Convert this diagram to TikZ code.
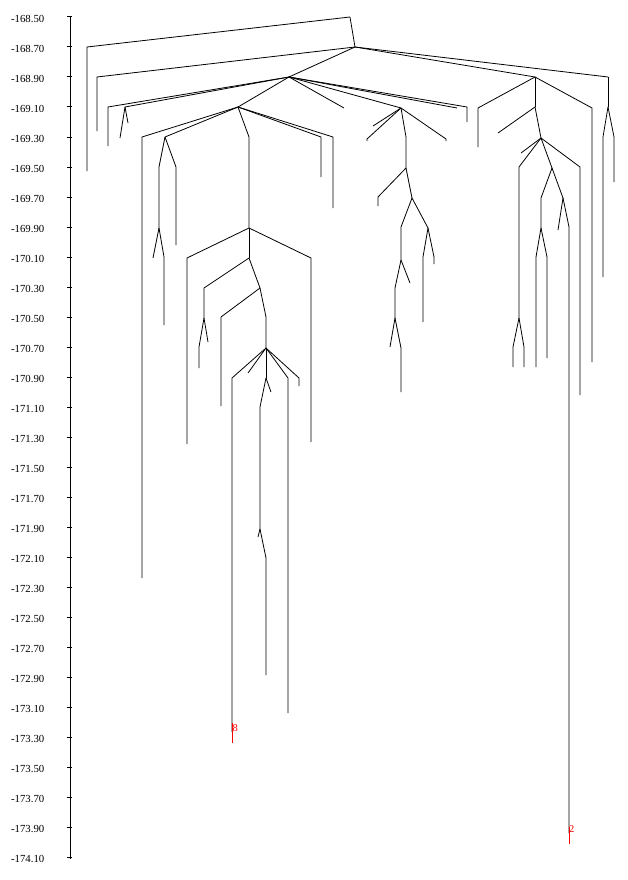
\documentclass[tikz,border=0pt]{standalone}
\usepackage{fontspec}
\setmainfont{Liberation Serif}
\begin{document}
\begin{tikzpicture}[x=1pt,y=-1pt,
  br/.style={line width=0.8pt,black,line join=miter},
  axisline/.style={line width=1pt,black},
  ticklab/.style={anchor=east,inner sep=0pt,font=\fontsize{10.8}{12}\selectfont},
  redseg/.style={line width=0.8pt,red},
  redlab/.style={anchor=west,inner sep=0pt,text=red,font=\fontsize{10.5}{11}\selectfont}]
\useasboundingbox (0,0) rectangle (628,880);
% axis
\coordinate (ax0) at (70,17);
\coordinate (ax1) at (70,859);
\draw[axisline] (ax0) -- (ax1);
\foreach \v [count=\i from 0] in {168.50,168.70,168.90,169.10,169.30,169.50,169.70,169.90,170.10,170.30,170.50,170.70,170.90,171.10,171.30,171.50,171.70,171.90,172.10,172.30,172.50,172.70,172.90,173.10,173.30,173.50,173.70,173.90,174.10}{
  \coordinate (tk\i) at (67,17+30*\i);
  \coordinate (tkr\i) at (72,17+30*\i);
  \draw[axisline] (tk\i) -- (tkr\i);
  \node[ticklab] (lab\i) at (44.5,18.5+30*\i) {-\v};
}
% ---- tree coordinates ----
\coordinate (R) at (350,17);
\coordinate (L1) at (87,47); \coordinate (L1e) at (87,171);
\coordinate (A) at (355,47);
\coordinate (L2) at (97,77); \coordinate (L2e) at (97,131);
\coordinate (B) at (289,77);
\coordinate (C) at (535,77);
\coordinate (D) at (608,77);
% B subtree
\coordinate (L3) at (108,107); \coordinate (L3e) at (108,146);
\coordinate (E) at (125,107); \coordinate (E1) at (120,138); \coordinate (E2) at (128,123);
\coordinate (F) at (238,107);
\coordinate (S1) at (344,108);
\coordinate (G) at (401,108);
\coordinate (S2) at (457,108);
\coordinate (L4) at (467,107); \coordinate (L4e) at (467,122);
% F subtree
\coordinate (L5) at (142,137); \coordinate (L5e) at (142,578);
\coordinate (H) at (165,137);
\coordinate (Fi) at (249,137); \coordinate (I) at (249,228);
\coordinate (L6) at (321,137); \coordinate (L6e) at (321,177);
\coordinate (L7) at (333,137); \coordinate (L7e) at (333,208);
\coordinate (H0) at (159,167); \coordinate (H1) at (159,228);
\coordinate (H1a) at (153,258); \coordinate (H1b) at (164,257); \coordinate (H1be) at (164,325);
\coordinate (L8) at (176,167); \coordinate (L8e) at (176,245);
\coordinate (L9) at (187,258); \coordinate (L9e) at (187,444);
\coordinate (I1) at (249,258);
\coordinate (L10) at (311,258); \coordinate (L10e) at (311,442);
\coordinate (I2) at (204,288); \coordinate (I2b) at (204,318);
\coordinate (I2c) at (199,347); \coordinate (I2ce) at (199,368); \coordinate (I2d) at (208,342);
\coordinate (I3) at (260,288);
\coordinate (L11) at (221,317); \coordinate (L11e) at (221,406);
\coordinate (I3b) at (266,317); \coordinate (I4) at (266,348);
\coordinate (L12) at (232,378); \coordinate (L12e) at (232,732);
\coordinate (R8a) at (232,723); \coordinate (R8b) at (232,743);
\coordinate (S3) at (248,373);
\coordinate (I5) at (266,378); \coordinate (I5a) at (260,407); \coordinate (I6) at (260,529);
\coordinate (I6a) at (258,537); \coordinate (I6b) at (266,558); \coordinate (I6be) at (266,675);
\coordinate (S4) at (271,392);
\coordinate (L13) at (288,378); \coordinate (L13e) at (288,713);
\coordinate (L14) at (299,378); \coordinate (L14e) at (299,386);
% G subtree
\coordinate (G1) at (373,126);
\coordinate (G2) at (367,139); \coordinate (G2e) at (367,141);
\coordinate (G3) at (446,139); \coordinate (G3e) at (446,141);
\coordinate (Gd) at (406,137); \coordinate (Gd2) at (406,168);
\coordinate (Ga) at (378,197); \coordinate (Gae) at (378,206);
\coordinate (Gb) at (412,198);
\coordinate (Gc) at (401,227); \coordinate (Gc2) at (401,260);
\coordinate (Gc3) at (395,288); \coordinate (Gc4) at (395,318);
\coordinate (Gc5) at (390,347); \coordinate (Gc6) at (401,348); \coordinate (Gc6e) at (401,392);
\coordinate (Gc7) at (410,283);
\coordinate (Ge) at (428,228);
\coordinate (Ge1) at (423,257); \coordinate (Ge1e) at (423,322);
\coordinate (Ge2) at (434,257); \coordinate (Ge2e) at (434,264);
% C subtree
\coordinate (Ca) at (478,108); \coordinate (Cae) at (478,147);
\coordinate (C1) at (535,107); \coordinate (C1s) at (498,133); \coordinate (C2) at (541,138);
\coordinate (Cb) at (592,108); \coordinate (Cbe) at (592,362);
\coordinate (C2s) at (521,153);
\coordinate (Cc) at (519,167); \coordinate (Cc2) at (519,318);
\coordinate (Cc3) at (513,347); \coordinate (Cc3e) at (513,367);
\coordinate (Cc4) at (524,347); \coordinate (Cc4e) at (524,367);
\coordinate (C3) at (552,168);
\coordinate (C3a) at (541,198); \coordinate (C3a2) at (541,228);
\coordinate (C3b) at (536,257); \coordinate (C3be) at (536,367);
\coordinate (C3c) at (547,257); \coordinate (C3ce) at (547,358);
\coordinate (C4) at (563,198); \coordinate (C4s) at (558,230);
\coordinate (C4a) at (569,227); \coordinate (C4ae) at (569,833);
\coordinate (R2a) at (569,827); \coordinate (R2b) at (569,844);
\coordinate (Cd) at (580,167); \coordinate (Cde) at (580,395);
% D subtree
\coordinate (D1) at (608,107);
\coordinate (Da) at (603,137); \coordinate (Dae) at (603,277);
\coordinate (Db) at (614,137); \coordinate (Dbe) at (614,182);
% ---- edges ----
\draw[br] (R) -- (L1) -- (L1e);
\draw[br] (R) -- (A);
\draw[br] (A) -- (L2) -- (L2e);
\draw[br] (A) -- (B);
\draw[br] (A) -- (C);
\draw[br] (A) -- (D);
\draw[br] (B) -- (L3) -- (L3e);
\draw[br] (B) -- (E); \draw[br] (E) -- (E1); \draw[br] (E) -- (E2);
\draw[br] (B) -- (F);
\draw[br] (B) -- (S1);
\draw[br] (B) -- (G);
\draw[br] (B) -- (S2);
\draw[br] (B) -- (L4) -- (L4e);
\draw[br] (F) -- (L5) -- (L5e);
\draw[br] (F) -- (H);
\draw[br] (F) -- (Fi) -- (I);
\draw[br] (F) -- (L6) -- (L6e);
\draw[br] (F) -- (L7) -- (L7e);
\draw[br] (H) -- (H0) -- (H1);
\draw[br] (H1) -- (H1a);
\draw[br] (H1) -- (H1b) -- (H1be);
\draw[br] (H) -- (L8) -- (L8e);
\draw[br] (I) -- (L9) -- (L9e);
\draw[br] (I) -- (I1);
\draw[br] (I) -- (L10) -- (L10e);
\draw[br] (I1) -- (I2) -- (I2b);
\draw[br] (I2b) -- (I2c) -- (I2ce);
\draw[br] (I2b) -- (I2d);
\draw[br] (I1) -- (I3);
\draw[br] (I3) -- (L11) -- (L11e);
\draw[br] (I3) -- (I3b) -- (I4);
\draw[br] (I4) -- (L12) -- (L12e);
\draw[br] (I4) -- (S3);
\draw[br] (I4) -- (I5);
\draw[br] (I5) -- (I5a) -- (I6);
\draw[br] (I6) -- (I6a);
\draw[br] (I6) -- (I6b) -- (I6be);
\draw[br] (I5) -- (S4);
\draw[br] (I4) -- (L13) -- (L13e);
\draw[br] (I4) -- (L14) -- (L14e);
\draw[br] (G) -- (G1);
\draw[br] (G) -- (G2) -- (G2e);
\draw[br] (G) -- (G3) -- (G3e);
\draw[br] (G) -- (Gd) -- (Gd2);
\draw[br] (Gd2) -- (Ga) -- (Gae);
\draw[br] (Gd2) -- (Gb);
\draw[br] (Gb) -- (Gc) -- (Gc2);
\draw[br] (Gc2) -- (Gc3) -- (Gc4);
\draw[br] (Gc4) -- (Gc5);
\draw[br] (Gc4) -- (Gc6) -- (Gc6e);
\draw[br] (Gc2) -- (Gc7);
\draw[br] (Gb) -- (Ge);
\draw[br] (Ge) -- (Ge1) -- (Ge1e);
\draw[br] (Ge) -- (Ge2) -- (Ge2e);
\draw[br] (C) -- (Ca) -- (Cae);
\draw[br] (C) -- (C1);
\draw[br] (C1) -- (C1s);
\draw[br] (C1) -- (C2);
\draw[br] (C) -- (Cb) -- (Cbe);
\draw[br] (C2) -- (C2s);
\draw[br] (C2) -- (Cc) -- (Cc2);
\draw[br] (Cc2) -- (Cc3) -- (Cc3e);
\draw[br] (Cc2) -- (Cc4) -- (Cc4e);
\draw[br] (C2) -- (C3);
\draw[br] (C3) -- (C3a) -- (C3a2);
\draw[br] (C3a2) -- (C3b) -- (C3be);
\draw[br] (C3a2) -- (C3c) -- (C3ce);
\draw[br] (C3) -- (C4);
\draw[br] (C4) -- (C4s);
\draw[br] (C4) -- (C4a) -- (C4ae);
\draw[br] (C2) -- (Cd) -- (Cde);
\draw[br] (D) -- (D1);
\draw[br] (D1) -- (Da) -- (Dae);
\draw[br] (D1) -- (Db) -- (Dbe);
% red leaf ends
\draw[redseg] (R8a) -- (R8b);
\node[redlab] (lab8) at (232.4,728) {8};
\draw[redseg] (R2a) -- (R2b);
\node[redlab] (lab2) at (569.0,829.5) {2};
\end{tikzpicture}
\end{document}
